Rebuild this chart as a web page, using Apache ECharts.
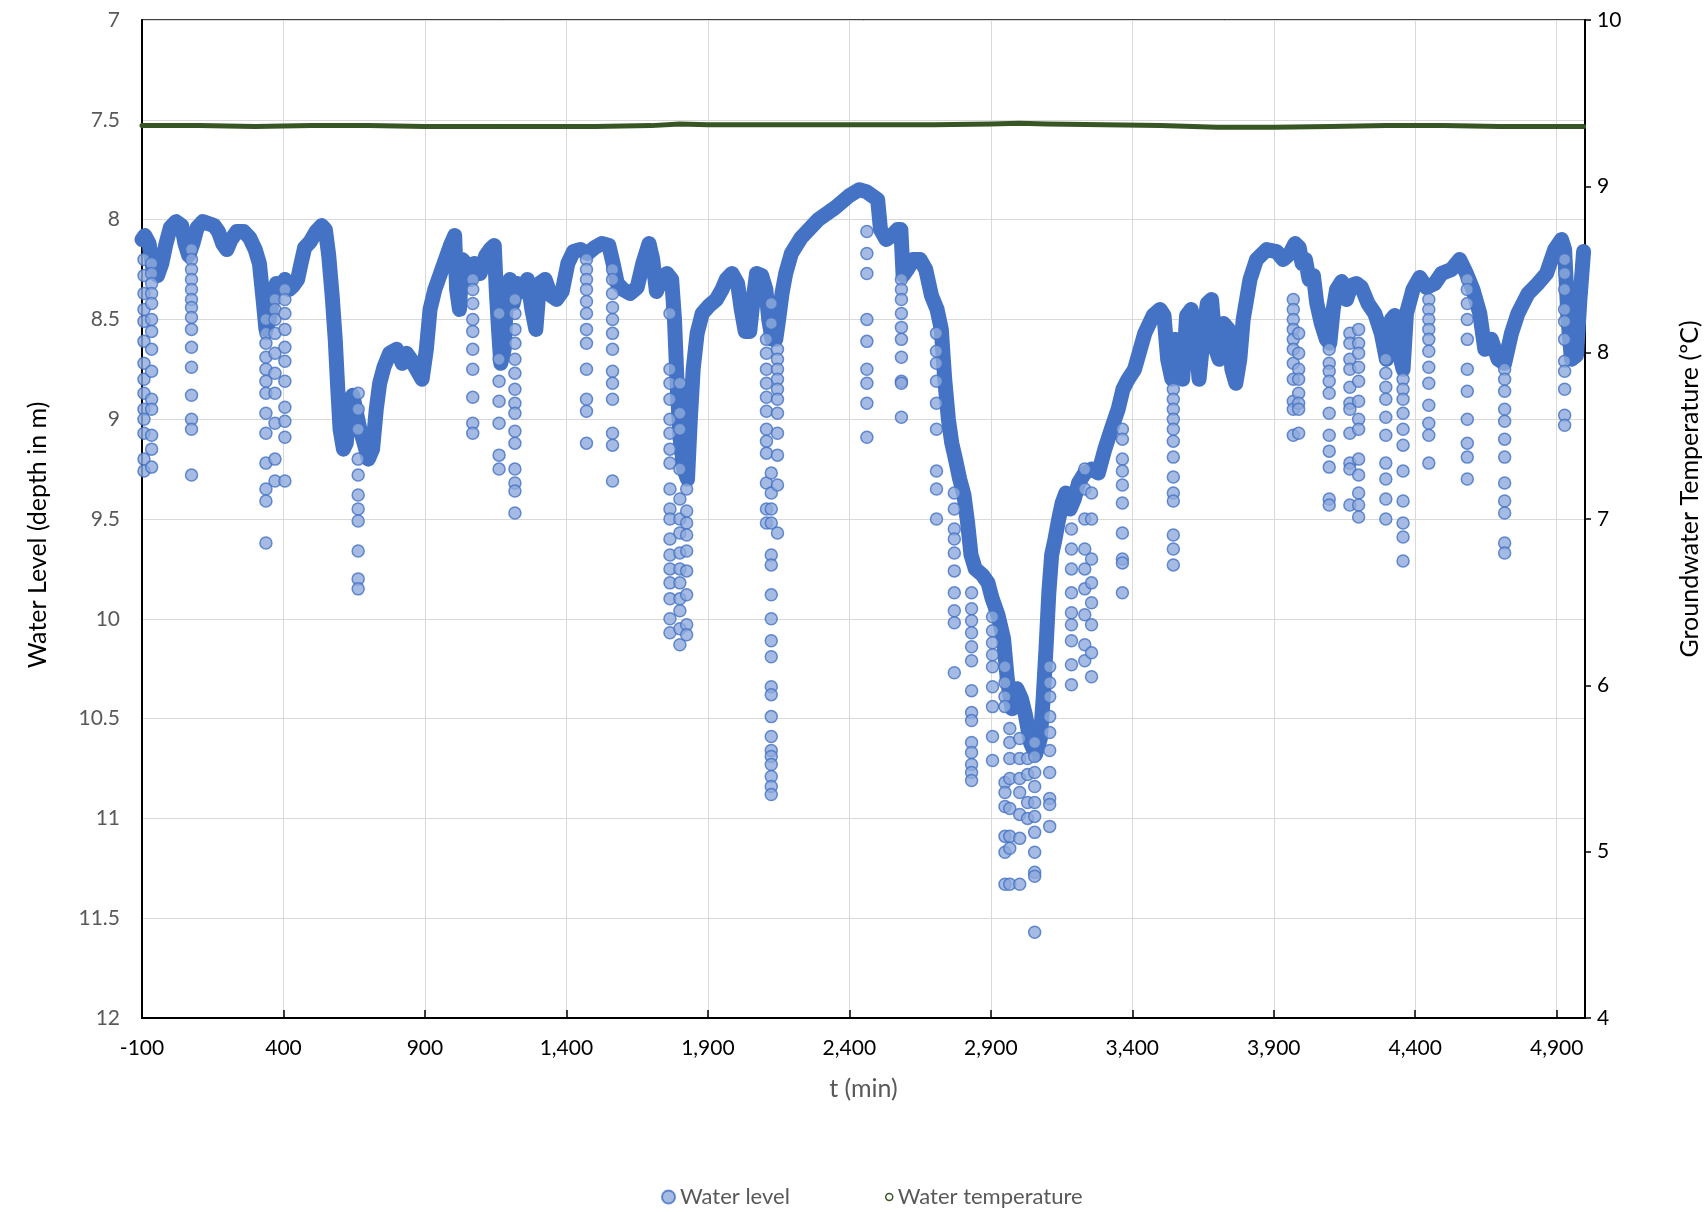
<!DOCTYPE html>
<html>
<head>
<meta charset="utf-8">
<script src="https://cdn.jsdelivr.net/npm/echarts@6/dist/echarts.min.js"></script>
<style>
html,body{margin:0;padding:0;background:#fff;}
#chart{width:1707px;height:1212px;}
</style>
</head>
<body>
<div id="chart"></div>
<script>
// x tick labels are generated by the axis (-100 .. 4,900 every 500)
const xMin = -100, xMax = 5000, xStep = 500;
const levelMin = 7, levelMax = 12, levelStep = 0.5;
const tempMin = 4, tempMax = 10, tempStep = 1;

// Water level: continuous record (time in min, depth in m)
const levelT = [-100,-90,-75,-60,-45,-30,-15,0,20,40,52,65,80,95,115,135,155,170,185,200,215,235,260,280,300,315,328,338,350,362,375,390,405,420,435,450,462,475,495,515,535,548,560,572,583,592,600,612,622,632,645,655,670,685,700,715,728,740,755,775,800,820,835,850,870,890,905,918,935,960,990,1005,1012,1022,1032,1045,1060,1075,1095,1115,1130,1145,1152,1160,1168,1180,1190,1200,1212,1225,1245,1262,1278,1292,1305,1325,1345,1365,1385,1405,1425,1450,1475,1500,1525,1550,1565,1580,1600,1625,1650,1670,1692,1705,1718,1735,1755,1772,1782,1792,1802,1815,1828,1838,1848,1862,1880,1905,1930,1950,1965,1985,2005,2018,2032,2048,2060,2072,2090,2105,2115,2127,2140,2150,2162,2175,2195,2230,2290,2350,2400,2435,2460,2480,2500,2510,2530,2550,2570,2582,2590,2605,2625,2650,2670,2690,2710,2725,2737,2750,2762,2775,2790,2805,2818,2830,2845,2870,2890,2905,2925,2945,2958,2975,2992,3008,3022,3040,3058,3075,3085,3095,3105,3115,3127,3140,3152,3165,3180,3195,3210,3232,3256,3280,3303,3326,3350,3367,3385,3408,3444,3474,3498,3512,3525,3540,3552,3565,3578,3592,3608,3622,3636,3650,3665,3680,3695,3707,3722,3740,3752,3766,3780,3792,3816,3839,3875,3910,3933,3957,3975,3990,4000,4012,4025,4040,4052,4068,4086,4098,4110,4122,4140,4157,4174,4192,4210,4233,4257,4280,4298,4316,4328,4340,4357,4369,4392,4416,4440,4469,4493,4528,4557,4581,4604,4628,4646,4669,4693,4716,4740,4763,4799,4834,4864,4893,4917,4928,4940,4952,4970,4982,4995];
const levelD = [8.10,8.08,8.12,8.26,8.28,8.22,8.12,8.04,8.01,8.03,8.12,8.18,8.12,8.04,8.01,8.02,8.03,8.06,8.12,8.15,8.10,8.06,8.06,8.09,8.15,8.22,8.40,8.55,8.50,8.38,8.32,8.33,8.30,8.35,8.33,8.30,8.22,8.14,8.11,8.06,8.03,8.05,8.18,8.38,8.60,8.85,9.05,9.15,9.12,8.92,8.88,8.95,9.05,9.12,9.20,9.15,8.95,8.82,8.74,8.67,8.65,8.72,8.67,8.70,8.75,8.80,8.65,8.45,8.35,8.25,8.13,8.08,8.35,8.45,8.20,8.22,8.30,8.22,8.27,8.18,8.15,8.13,8.35,8.55,8.72,8.65,8.35,8.30,8.42,8.32,8.36,8.30,8.45,8.55,8.32,8.30,8.38,8.40,8.36,8.22,8.16,8.15,8.17,8.14,8.12,8.13,8.22,8.32,8.35,8.37,8.34,8.22,8.12,8.20,8.36,8.30,8.27,8.30,8.50,8.85,9.10,9.25,9.30,9.00,8.75,8.57,8.47,8.43,8.40,8.35,8.30,8.27,8.32,8.45,8.56,8.56,8.40,8.27,8.28,8.35,8.50,8.60,8.60,8.50,8.37,8.27,8.17,8.09,8.00,7.94,7.88,7.85,7.86,7.88,7.90,8.05,8.10,8.08,8.05,8.05,8.28,8.25,8.20,8.20,8.25,8.38,8.45,8.55,8.80,9.00,9.12,9.20,9.30,9.38,9.52,9.68,9.75,9.78,9.82,9.90,9.98,10.10,10.30,10.45,10.35,10.40,10.48,10.62,10.68,10.60,10.40,10.15,9.87,9.68,9.60,9.50,9.42,9.37,9.45,9.40,9.32,9.27,9.25,9.27,9.15,9.05,8.95,8.85,8.80,8.75,8.57,8.48,8.45,8.48,8.70,8.80,8.60,8.75,8.80,8.48,8.45,8.55,8.80,8.60,8.42,8.40,8.65,8.70,8.52,8.55,8.75,8.82,8.70,8.50,8.30,8.20,8.15,8.16,8.20,8.17,8.12,8.14,8.22,8.20,8.30,8.28,8.42,8.52,8.60,8.62,8.45,8.35,8.31,8.40,8.33,8.32,8.34,8.42,8.47,8.57,8.70,8.50,8.48,8.65,8.75,8.47,8.35,8.29,8.34,8.32,8.27,8.25,8.20,8.27,8.35,8.47,8.65,8.60,8.70,8.72,8.57,8.47,8.37,8.32,8.27,8.15,8.10,8.15,8.50,8.70,8.68,8.40,8.16];

// Water level: rapid drawdown readings (time in min, depths in m)
const spikeT = [-93,-66,75,338,370,405,664,1069,1162,1218,1471,1563,1766,1801,1825,2107,2124,2146,2462,2584,2708,2771,2832,2906,2950,2967,3002,3030,3055,3108,3185,3232,3256,3365,3545,3969,3988,4096,4169,4200,4296,4357,4448,4584,4716,4928];
const spikeD = [
  [8.20,8.28,8.37,8.45,8.51,8.61,8.72,8.80,8.87,8.95,9.00,9.07,9.20,9.26],
  [8.22,8.27,8.32,8.37,8.42,8.50,8.56,8.65,8.76,8.90,8.95,9.08,9.15,9.24],
  [8.15,8.20,8.25,8.30,8.35,8.40,8.44,8.49,8.55,8.64,8.74,8.88,9.00,9.05,9.28],
  [8.50,8.57,8.62,8.69,8.75,8.81,8.87,8.97,9.07,9.22,9.35,9.41,9.62],
  [8.40,8.45,8.50,8.57,8.67,8.77,8.87,9.02,9.20,9.31],
  [8.35,8.40,8.47,8.55,8.64,8.71,8.81,8.94,9.01,9.09,9.31],
  [8.87,8.95,9.05,9.20,9.28,9.38,9.45,9.51,9.66,9.80,9.85],
  [8.30,8.35,8.42,8.50,8.56,8.65,8.75,8.89,9.02,9.07],
  [8.47,8.70,8.81,8.91,9.02,9.18,9.25],
  [8.40,8.47,8.55,8.62,8.70,8.77,8.85,8.92,8.97,9.06,9.12,9.25,9.32,9.36,9.47],
  [8.20,8.25,8.30,8.35,8.41,8.47,8.55,8.62,8.75,8.90,8.96,9.12],
  [8.25,8.30,8.37,8.44,8.50,8.57,8.65,8.76,8.82,8.90,9.07,9.13,9.31],
  [8.47,8.75,8.82,8.90,9.00,9.07,9.15,9.22,9.35,9.45,9.50,9.60,9.68,9.75,9.82,9.90,10.00,10.07],
  [8.82,8.97,9.05,9.25,9.40,9.50,9.57,9.67,9.75,9.82,9.90,9.96,10.05,10.13],
  [9.35,9.46,9.52,9.58,9.66,9.76,9.88,10.03,10.08],
  [8.60,8.67,8.75,8.82,8.89,8.96,9.05,9.11,9.17,9.32,9.45,9.52],
  [8.42,8.52,9.27,9.37,9.45,9.52,9.68,9.73,9.88,10.00,10.11,10.19,10.34,10.38,10.49,10.59,10.66,10.69,10.73,10.79,10.84,10.88],
  [8.65,8.70,8.75,8.80,8.85,8.90,8.97,9.07,9.18,9.33,9.57],
  [8.06,8.17,8.27,8.50,8.61,8.75,8.82,8.92,9.09],
  [8.30,8.35,8.40,8.47,8.54,8.60,8.69,8.81,8.82,8.99],
  [8.57,8.66,8.72,8.81,8.92,9.05,9.26,9.35,9.50],
  [9.37,9.45,9.55,9.60,9.67,9.76,9.87,9.96,10.02,10.27],
  [9.87,9.95,10.01,10.07,10.14,10.21,10.36,10.47,10.51,10.62,10.67,10.73,10.77,10.81],
  [9.99,10.06,10.12,10.18,10.24,10.34,10.44,10.59,10.71],
  [10.24,10.32,10.39,10.44,10.82,10.87,10.94,11.09,11.17,11.33],
  [10.55,10.62,10.70,10.80,10.95,11.09,11.15,11.33],
  [10.60,10.70,10.80,10.87,10.98,11.10,11.33],
  [10.70,10.78,10.92,11.00],
  [10.62,10.69,10.77,10.84,10.92,10.99,11.07,11.17,11.27,11.29,11.57],
  [10.24,10.32,10.39,10.49,10.57,10.66,10.77,10.90,10.93,11.04],
  [9.55,9.65,9.75,9.87,9.97,10.03,10.11,10.23,10.33],
  [9.25,9.35,9.50,9.65,9.75,9.85,9.98,10.13,10.21],
  [9.37,9.50,9.70,9.82,9.92,10.03,10.17,10.29],
  [9.05,9.10,9.20,9.26,9.33,9.42,9.57,9.70,9.72,9.87],
  [8.85,8.90,8.95,9.00,9.05,9.11,9.19,9.29,9.37,9.41,9.58,9.65,9.73],
  [8.40,8.45,8.50,8.55,8.60,8.65,8.72,8.80,8.91,8.95,9.08],
  [8.57,8.67,8.75,8.80,8.87,8.92,8.95,9.07],
  [8.65,8.72,8.76,8.81,8.87,8.97,9.08,9.16,9.24,9.40,9.43],
  [8.57,8.62,8.70,8.75,8.84,8.92,8.95,9.07,9.22,9.25,9.43],
  [8.55,8.62,8.67,8.74,8.81,8.91,9.00,9.05,9.20,9.28,9.37,9.43,9.49],
  [8.70,8.77,8.84,8.90,8.99,9.08,9.22,9.30,9.40,9.50],
  [8.80,8.85,8.90,8.97,9.05,9.13,9.26,9.41,9.52,9.59,9.71],
  [8.40,8.45,8.50,8.55,8.60,8.66,8.74,8.82,8.93,9.02,9.08,9.22],
  [8.30,8.35,8.42,8.50,8.60,8.75,8.86,9.00,9.12,9.19,9.30],
  [8.75,8.80,8.86,8.95,9.01,9.10,9.19,9.32,9.41,9.47,9.62,9.67],
  [8.20,8.27,8.35,8.45,8.51,8.60,8.71,8.76,8.85,8.98,9.03]
];

// Groundwater temperature (time in min, °C)
const tempT = [-100,100,300,500,700,900,1100,1300,1500,1700,1800,1900,2100,2300,2500,2700,2900,3000,3100,3300,3500,3700,3900,4100,4300,4500,4700,4900,4995];
const tempV = [9.365,9.365,9.36,9.365,9.365,9.36,9.36,9.36,9.36,9.365,9.375,9.37,9.37,9.37,9.37,9.37,9.375,9.38,9.375,9.37,9.365,9.355,9.355,9.36,9.365,9.365,9.36,9.36,9.36];

const levelLine = levelT.map((t, i) => [t, levelD[i]]);
const spikePts = [];
spikeT.forEach((t, i) => spikeD[i].forEach(d => spikePts.push([t, d])));
const tempLine = tempT.map((t, i) => [t, tempV[i]]);

const FONT = 'Lato, "Noto Sans", sans-serif';
const chart = echarts.init(document.getElementById('chart'), null, {renderer: 'canvas'});
chart.setOption({
  animation: false,
  backgroundColor: '#fff',
  textStyle: {fontFamily: FONT},
  grid: {left: 142, right: 122, top: 20, bottom: 194, outerBoundsMode: 'none', containLabel: false,
         show: true, borderColor: '#000', borderWidth: 1.5, backgroundColor: 'transparent'},
  legend: [
    {data: [{name: 'Water level', icon: 'circle'}], left: 656, top: 1181, itemWidth: 13, itemHeight: 13,
     textStyle: {fontSize: 22, color: '#595959', fontFamily: FONT}, selectedMode: false},
    {data: [{name: 'Water temperature', icon: 'circle', itemStyle: {color: '#fff', borderColor: '#375623', borderWidth: 1.5}}],
     left: 880, top: 1181, itemWidth: 7, itemHeight: 7,
     textStyle: {fontSize: 22, color: '#595959', fontFamily: FONT}, selectedMode: false}
  ],
  xAxis: {
    type: 'value', min: xMin, max: xMax, interval: xStep,
    name: 't (min)', nameLocation: 'middle', nameGap: 58,
    nameTextStyle: {fontSize: 25, color: '#595959', fontFamily: FONT},
    axisLine: {show: true, onZero: false, lineStyle: {color: '#000', width: 2}},
    axisTick: {show: true, inside: true, length: 8, lineStyle: {color: '#000', width: 1.5}},
    axisLabel: {fontSize: 21, color: '#000', margin: 20, showMaxLabel: false, fontFamily: FONT},
    splitLine: {show: true, lineStyle: {color: '#d9d9d9', width: 1}}
  },
  yAxis: [
    {
      type: 'value', min: levelMin, max: levelMax, interval: levelStep, inverse: true,
      name: 'Water Level (depth in m)', nameLocation: 'middle', nameGap: 92,
      nameTextStyle: {fontSize: 25, color: '#000', fontFamily: FONT, padding: [0, 32, 0, 0]},
      axisLine: {show: true, onZero: false, lineStyle: {color: '#000', width: 2}},
      axisTick: {show: false},
      axisLabel: {fontSize: 21, color: '#595959', margin: 22, fontFamily: FONT},
      splitLine: {show: true, lineStyle: {color: '#d9d9d9', width: 1}}
    },
    {
      type: 'value', min: tempMin, max: tempMax, interval: tempStep, position: 'right',
      name: 'Groundwater Temperature (ºC)', nameLocation: 'middle', nameGap: 92,
      nameTextStyle: {fontSize: 25, color: '#000', fontFamily: FONT, padding: [0, 0, 0, 60]},
      axisLine: {show: true, onZero: false, lineStyle: {color: '#000', width: 2}},
      axisTick: {show: true, inside: false, length: 6, lineStyle: {color: '#000', width: 1.5}},
      axisLabel: {fontSize: 21, color: '#000', margin: 12, fontFamily: FONT},
      splitLine: {show: false}
    }
  ],
  series: [
    {
      name: 'Water level', type: 'scatter', yAxisIndex: 0, z: 3,
      symbol: 'circle', symbolSize: 12,
      itemStyle: {color: '#8FAADC', borderColor: '#4472C4', borderWidth: 1.5},
      data: spikePts
    },
    {
      name: 'Water level', type: 'line', yAxisIndex: 0, z: 2,
      showSymbol: false, symbol: 'none',
      lineStyle: {color: '#4472C4', width: 15, cap: 'round', join: 'round'},
      data: levelLine
    },
    {
      name: 'Water temperature', type: 'line', yAxisIndex: 1, z: 4,
      showSymbol: false, symbol: 'none',
      itemStyle: {color: '#fff', borderColor: '#375623'},
      lineStyle: {color: '#375623', width: 5, cap: 'round', join: 'round'},
      data: tempLine
    }
  ]
});
</script>
</body>
</html>
